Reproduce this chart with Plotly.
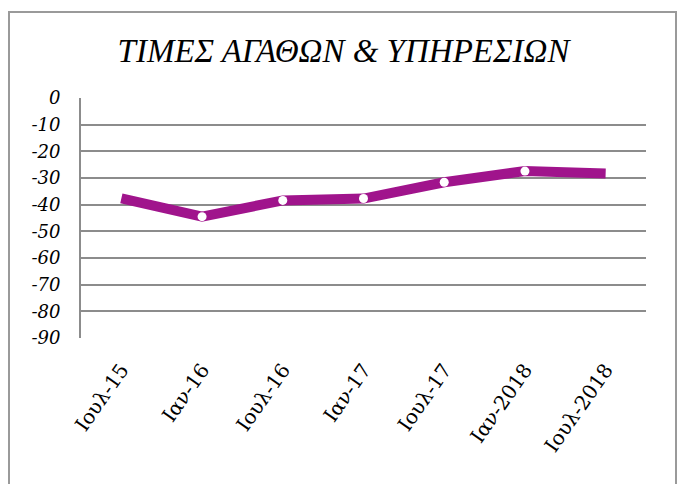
import plotly.graph_objects as go

categories = ["Ιουλ-15", "Ιαν-16", "Ιουλ-16", "Ιαν-17", "Ιουλ-17", "Ιαν-2018", "Ιουλ-2018"]
values = [-37.6, -44.5, -38.4, -37.7, -31.6, -27.4, -28.3]
y_ticks = [0, -10, -20, -30, -40, -50, -60, -70, -80, -90]
title_text = "ΤΙΜΕΣ ΑΓΑΘΩΝ & ΥΠΗΡΕΣΙΩΝ"

# page body has an 8px offset; figure is sized to fit the window
OFF = 8
W, H = 693 - OFF, 484 - OFF
L, T = 81 - OFF, 98 - OFF
pw, ph = 565, 240
R, B = W - L - pw, H - T - ph

marker_sizes = [0] + [9] * (len(values) - 2) + [0]

fig = go.Figure()
fig.add_trace(go.Scatter(
    x=categories, y=values, mode="lines+markers",
    line=dict(color="#A0148C", width=10),
    marker=dict(color="white", size=marker_sizes, opacity=1, line=dict(width=0)),
    showlegend=False, hoverinfo="skip",
))

def px_x(p):
    return (p - OFF - L) / pw

def px_y(p):
    return (T + ph - (p - OFF)) / ph

fig.update_layout(
    width=W, height=H,
    margin=dict(l=L, r=R, t=T, b=B),
    paper_bgcolor="white", plot_bgcolor="white",
    title=dict(text=title_text, x=(343.5 - OFF) / W, xanchor="center",
               y=1 - (50 - OFF) / H, yanchor="middle",
               font=dict(family="Liberation Serif", size=33, color="black", style="italic")),
    xaxis=dict(type="category", showgrid=False, showline=False, ticks="", automargin=False,
               tickangle=-55, ticklabelstandoff=15,
               tickfont=dict(family="DejaVu Serif", size=20, color="black"),
               range=[-0.5, len(categories) - 0.5]),
    yaxis=dict(range=[-90, 0], tickvals=y_ticks, ticktext=[str(v) for v in y_ticks],
               showgrid=True, gridcolor="#8c8c8c", gridwidth=2, automargin=False,
               showline=True, linecolor="#8c8c8c", linewidth=2, zeroline=False,
               ticks="", ticklabelstandoff=15,
               tickfont=dict(family="DejaVu Serif", size=18, color="black", style="italic")),
    shapes=[dict(type="rect", xref="paper", yref="paper",
                 x0=px_x(9), x1=px_x(676), y0=px_y(500), y1=px_y(12),
                 line=dict(color="#9a9a9a", width=2), layer="below")],
)

fig.write_html("out.html")
